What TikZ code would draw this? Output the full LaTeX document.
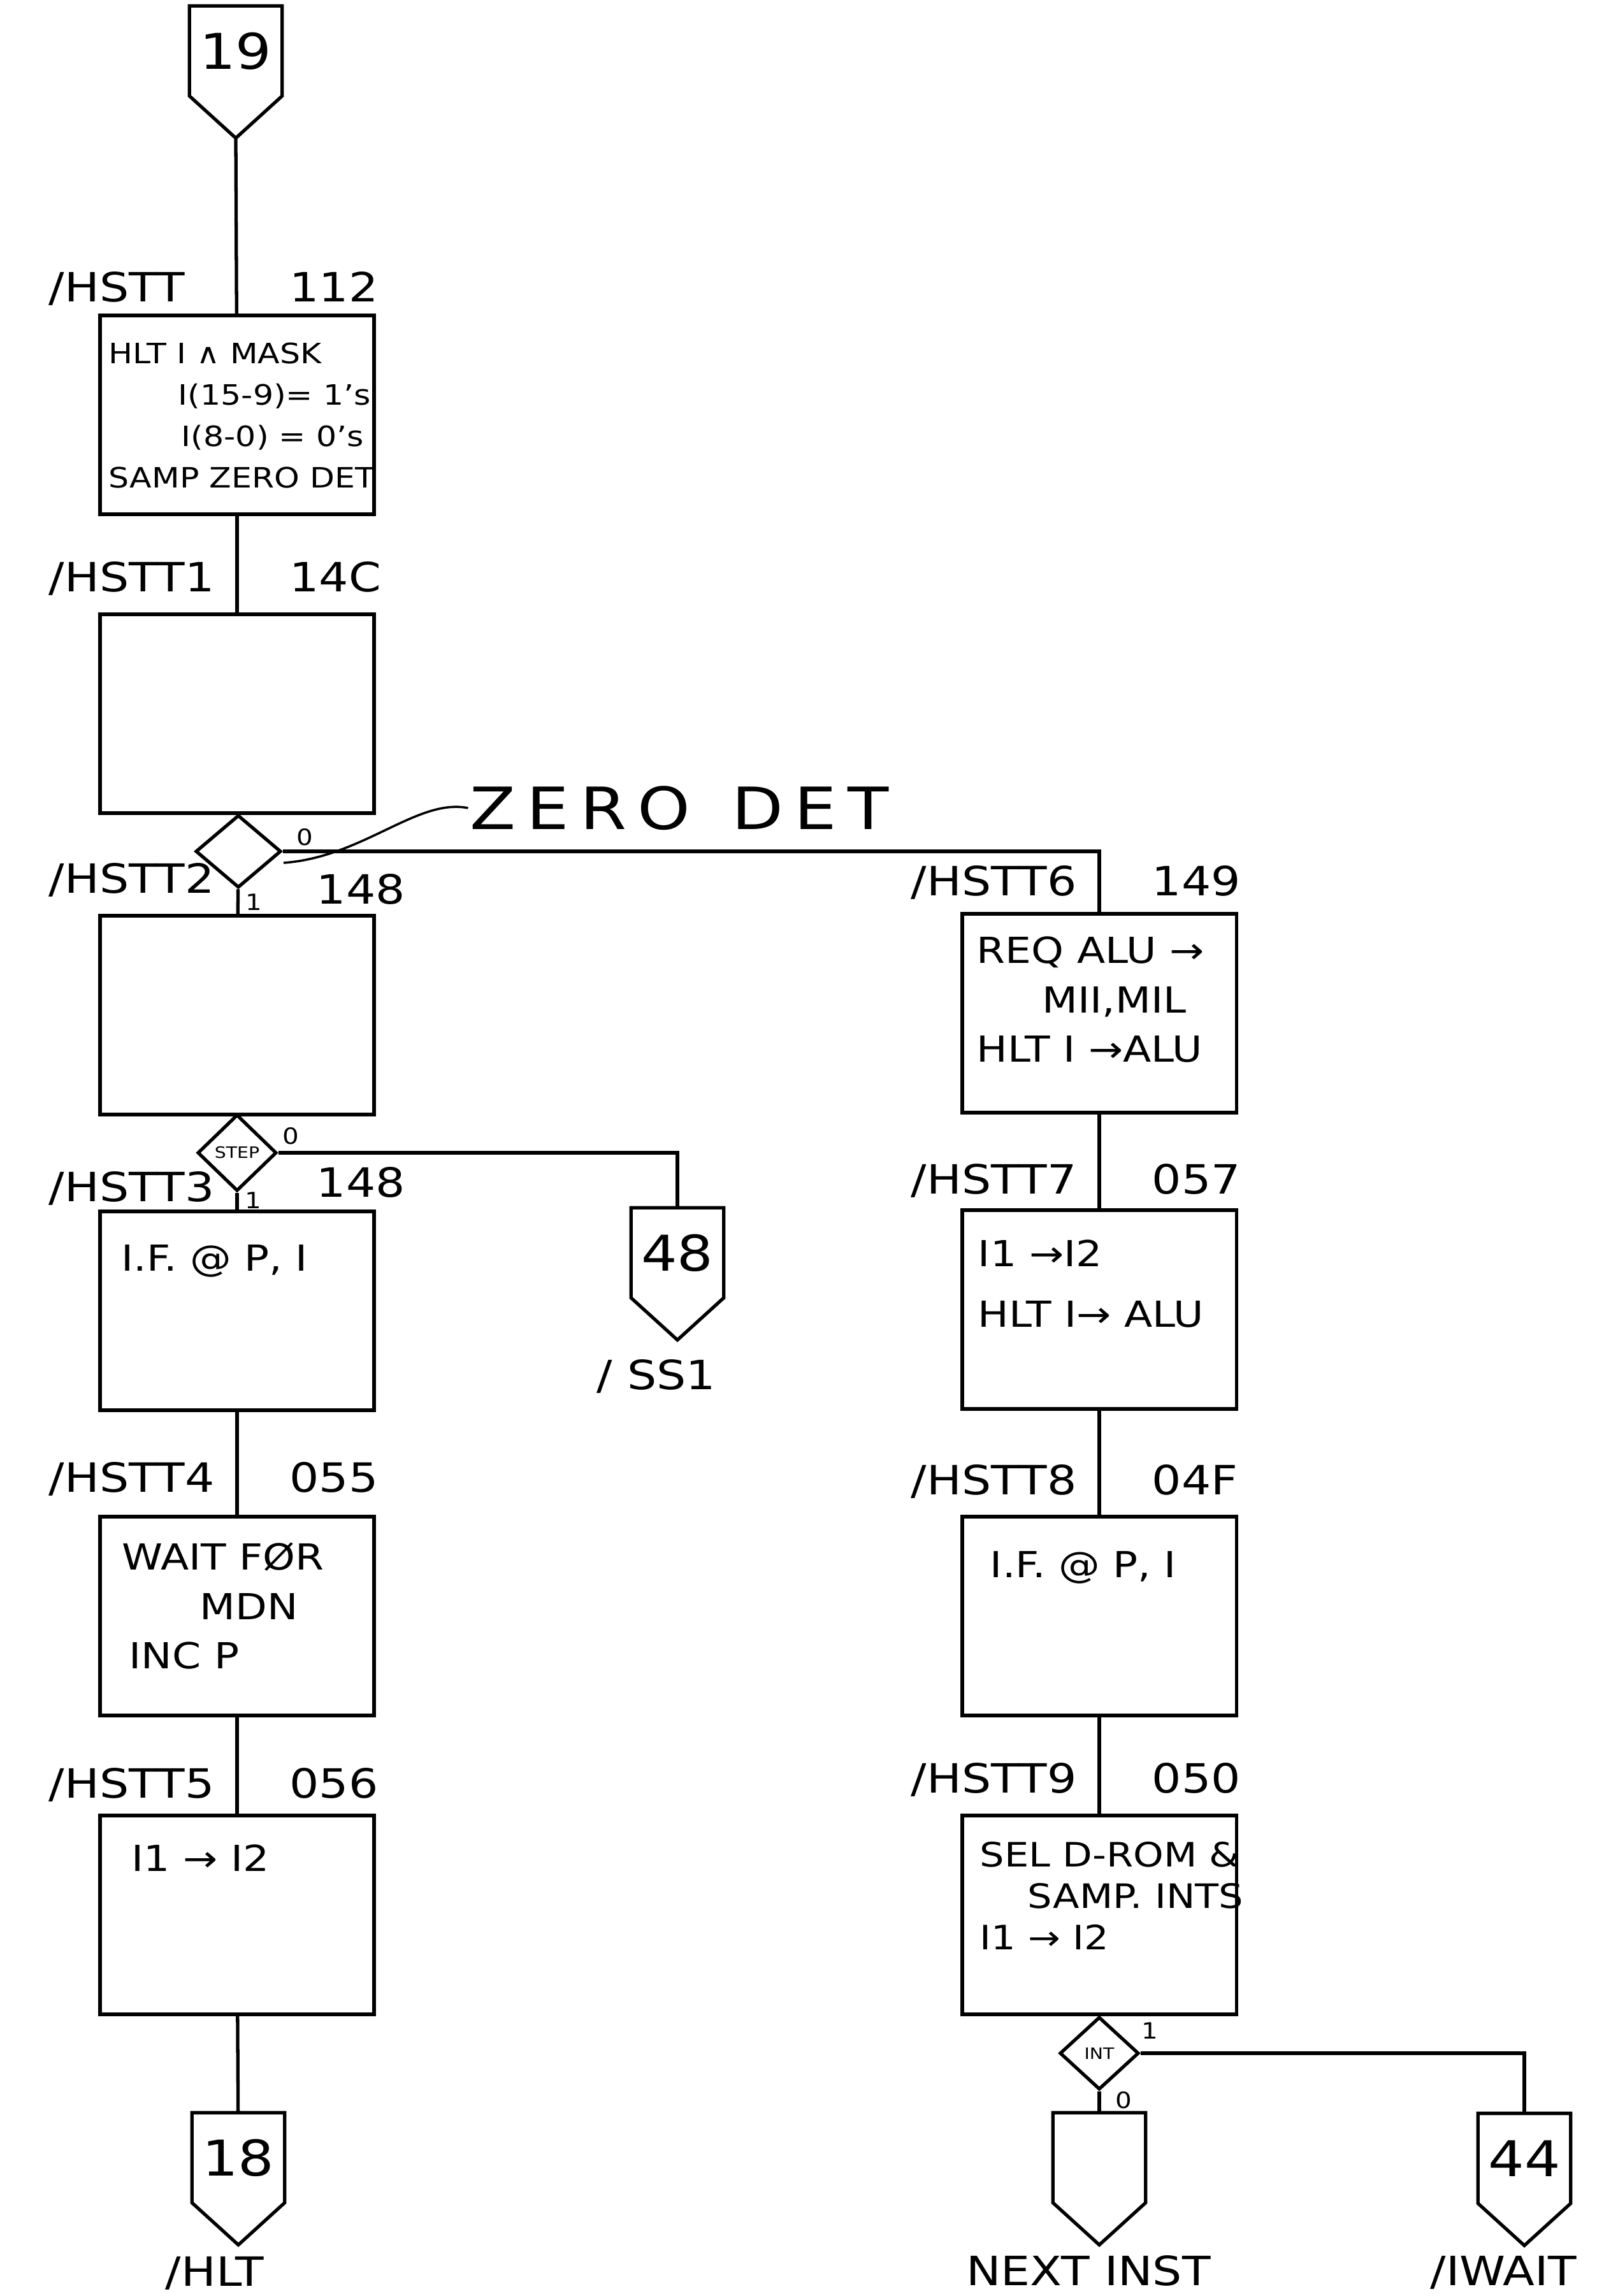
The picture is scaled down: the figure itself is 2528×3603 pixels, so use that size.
\documentclass[tikz,border=0pt]{standalone}
\usepackage{fontspec}
\setmainfont{DejaVu Sans}[FakeStretch=1.15]
\newfontfamily\zdfont{DejaVu Sans}[FakeStretch=1.15, LetterSpace=19]
\usetikzlibrary{shapes.geometric, calc}

\begin{document}
\begin{tikzpicture}[x=0.01cm, y=-0.01cm, line width=1.5pt,
  pbox/.style={draw, minimum width=4.3cm, minimum height=3.12cm, inner sep=0pt},
  dec/.style={draw, diamond, inner sep=0pt, font=\fontsize{7}{8}\selectfont},
  offpg/.style={minimum width=1.4cm, minimum height=1.36cm, inner sep=0pt, font=\fontsize{22}{24}\selectfont},
  lbl/.style={inner sep=0pt, font=\fontsize{18}{21}\selectfont},
  txt/.style={inner sep=0pt, anchor=north west, align=left, font=\fontsize{16}{22}\selectfont},
  bit/.style={inner sep=0pt, font=\fontsize{10}{12}\selectfont}]
\useasboundingbox (0,0) rectangle (2528,3603);

% left column
\node[offpg] (c19) at (370,80) {19};
\node[pbox] (b0) at (372,651) {};
\node[pbox] (b1) at (372,1120) {};
\node[dec, minimum width=1.34cm, minimum height=1.14cm] (d1) at (374,1336) {};
\node[pbox] (b2) at (372,1593) {};
\node[dec, minimum width=1.24cm, minimum height=1.2cm] (d2) at (372,1809) {STEP};
\node[pbox] (b3) at (372,2057) {};
\node[pbox] (b4) at (372,2536) {};
\node[pbox] (b5) at (372,3005) {};
\node[offpg] (c18) at (374,3386) {18};
\node[offpg] (c48) at (1063,1966) {48};

% right column
\node[pbox] (b6) at (1725,1590) {};
\node[pbox] (b7) at (1725,2055) {};
\node[pbox] (b8) at (1725,2536) {};
\node[pbox] (b9) at (1725,3005) {};
\node[dec, minimum width=1.24cm, minimum height=1.14cm] (d3) at (1725,3222) {INT};
\node[offpg] (cnext) at (1725,3386) {};
\node[offpg] (c44) at (2392,3387) {44};

% off-page connectors
\foreach \c in {c19,c48,c18,cnext,c44}{
  \draw (\c.north west) -- (\c.north east) -- (\c.south east)
    -- ([yshift=-0.66cm]\c.south) coordinate (\c-tip) -- (\c.south west) -- cycle;}

\draw (c19-tip) -- (b0);
\foreach \a/\b in {b0/b1,b1/d1,d1/b2,b2/d2,d2/b3,b3/b4,b4/b5,b5/c18}{
  \draw (\a) -- (\b);}
\foreach \a/\b in {b6/b7,b7/b8,b8/b9,b9/d3,d3/cnext}{
  \draw (\a) -- (\b);}
\draw (d1.east) -| (b6.north);
\draw (d2.east) -| (c48.north);
\draw (d3.east) -| (c44.north);

% state names and addresses
\foreach \b/\n/\a/\s/\u/\v in {b0//112/0.8cm/0.19cm/0.19cm, b1/1/14C/0.8cm/0.33cm/0.33cm,
    b2/2/148/1.22cm/0.33cm/0.16cm, b3/3/148/1.22cm/0.13cm/0.2cm,
    b4/4/055/0.8cm/0.36cm/0.36cm, b5/5/056/0.8cm/0.25cm/0.25cm,
    b6/6/149/0.8cm/0.26cm/0.26cm, b7/7/057/0.8cm/0.23cm/0.23cm,
    b8/8/04F/0.8cm/0.32cm/0.32cm, b9/9/050/0.8cm/0.33cm/0.33cm}{
  \node[lbl, anchor=base west] (n\b) at ($(\b.north west)+(-0.8cm,\u)$) {/HSTT\n};
  \node[lbl, anchor=base west] (a\b) at ($(\b.north)+(\s,\v)$) {\a};}

% branch bits
\node[bit] (d1o) at ($(d1.east)+(0.35cm,0.22cm)$) {0};
\node[bit] (d1i) at ($(d1.south)+(0.24cm,-0.2cm)$) {1};
\node[bit] (d2o) at ($(d2.east)+(0.2cm,0.26cm)$) {0};
\node[bit] (d2i) at ($(d2.south)+(0.25cm,-0.12cm)$) {1};
\node[bit] (d3i) at ($(d3.east)+(0.15cm,0.35cm)$) {1};
\node[bit] (d3o) at ($(d3.south)+(0.38cm,-0.14cm)$) {0};

% zero detect note
\node[inner sep=0pt, font=\zdfont\fontsize{26}{30}\selectfont] (zdet) at (1066,1268) {ZERO\hspace{0.65cm}DET};
\coordinate (zdtip) at (445,1354);
\draw[line width=1pt] (zdet.west) .. controls (655,1252) and (570,1345) .. (zdtip);

% box contents
\node[txt, font=\fontsize{12.5}{18.5}\selectfont] (t0) at ($(b0.north west)+(0.14cm,-0.43cm)$)
  {HLT I ∧ MASK\\\hspace*{1.09cm}I(15-9)= 1's\\\hspace*{1.14cm}I(8-0) = 0's\\SAMP ZERO DET};
\node[txt] (t3) at ($(b3.north west)+(0.34cm,-0.53cm)$) {I.F. @ P, I};
\node[txt] (t4) at ($(b4.north west)+(0.35cm,-0.41cm)$) {WAIT FØR\\\hspace*{1.22cm}MDN\\\hspace*{0.11cm}INC P};
\node[txt] (t5) at ($(b5.north west)+(0.5cm,-0.46cm)$) {I1 → I2};
\node[txt] (t6) at ($(b6.north west)+(0.23cm,-0.36cm)$) {REQ ALU →\\\hspace*{1.03cm}MII,MIL\\HLT I →ALU};
\node[txt, font=\fontsize{16}{27}\selectfont] (t7) at ($(b7.north west)+(0.25cm,-0.47cm)$) {I1 →I2\\HLT I→ ALU};
\node[txt] (t8) at ($(b8.north west)+(0.44cm,-0.55cm)$) {I.F. @ P, I};
\node[txt, font=\fontsize{15}{18.5}\selectfont] (t9) at ($(b9.north west)+(0.28cm,-0.41cm)$)
  {SEL D-ROM \&\\\hspace*{0.75cm}SAMP. INTS\\I1 → I2};

% exits
\node[lbl] (xhlt) at ($(c18-tip)+(-0.37cm,-0.45cm)$) {/HLT};
\node[lbl] (xss1) at ($(c48-tip)+(-0.33cm,-0.57cm)$) {/ SS1};
\node[lbl] (xnext) at ($(cnext-tip)+(-0.17cm,-0.41cm)$) {NEXT INST};
\node[lbl, anchor=west] (xwait) at ($(c44-tip)+(-1.5cm,-0.43cm)$) {/IWAIT};

\end{tikzpicture}
\end{document}
